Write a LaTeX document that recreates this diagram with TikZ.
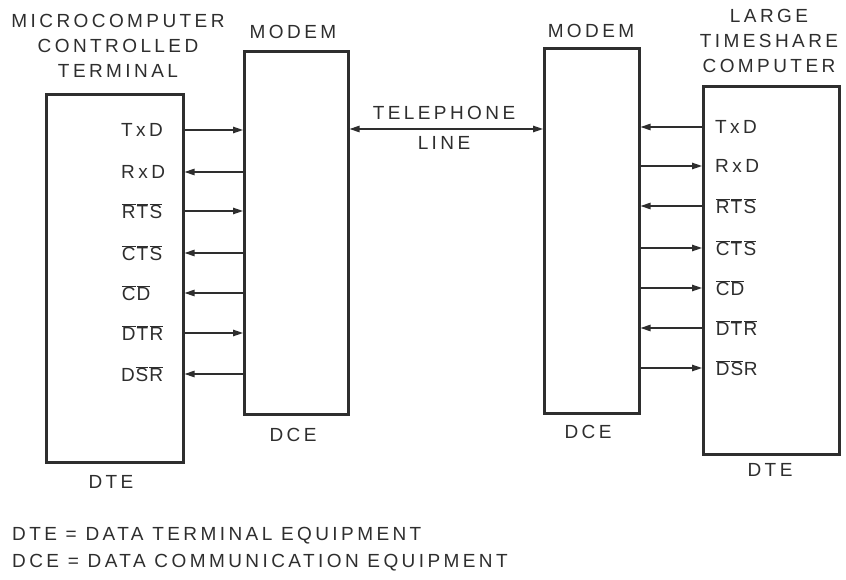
\documentclass[tikz,border=0pt]{standalone}
\usepackage{fontspec}
\setmainfont[LetterSpace=18]{Liberation Sans}
\usetikzlibrary{arrows.meta}
\definecolor{ink}{HTML}{2E2E2E}
\newcommand{\ob}[1]{\kern0.6pt$\overline{\mbox{#1}}$\kern0.6pt}
\begin{document}
\begin{tikzpicture}[x=1pt,y=-1pt,
  box/.style={draw=ink,line width=2.6pt,fill=none},
  txt/.style={text=ink,font=\fontsize{19}{25}\selectfont,inner sep=0pt,align=center},
  sig/.style={txt,anchor=west},
  conn/.style={draw=ink,line width=1.3pt,-{Triangle[length=10pt,width=6.5pt]}},
  conn2/.style={draw=ink,line width=1.3pt,{Triangle[length=10pt,width=6.5pt]}-{Triangle[length=10pt,width=6.5pt]}}]
\useasboundingbox (0,0) rectangle (846,580);
% boxes
\node[box,minimum width=137pt,minimum height=368pt,anchor=north west] (dteL) at (45,93) {};
\node[box,minimum width=104pt,minimum height=363pt,anchor=north west] (modL) at (243,50) {};
\node[box,minimum width=95pt,minimum height=365pt,anchor=north west] (modR) at (543,47) {};
\node[box,minimum width=136pt,minimum height=368pt,anchor=north west] (dteR) at (702,85) {};
% titles
\node[txt] (t1) at (118,46) {MICROCOMPUTER\\CONTROLLED\\TERMINAL};
\node[txt] (t2) at (293,32) {MODEM};
\node[txt] (t3) at (591,31) {MODEM};
\node[txt] (t4) at (769,41) {LARGE\\TIMESHARE\\COMPUTER};
\node[txt] (b1) at (111,482) {DTE};
\node[txt] (b2) at (293,435) {DCE};
\node[txt] (b3) at (588,432) {DCE};
\node[txt] (b4) at (770,470) {DTE};
% telephone line
\node[txt] (tel) at (444,113) {TELEPHONE};
\node[txt] (line) at (444,143) {LINE};
\coordinate (tl) at (0,129);
\draw[conn2] (modL.east |- tl) -- (modR.west |- tl);
% left signals
\node[sig] (l1) at (121,130) {TxD};
\node[sig] (l2) at (121,172) {RxD};
\node[sig] (l3) at (121,211) {\ob{R}\ob{T}\ob{S}};
\node[sig] (l4) at (121,253) {\ob{C}\ob{T}\ob{S}};
\node[sig] (l5) at (121,293) {\ob{C}\ob{D}};
\node[sig] (l6) at (121,333) {\ob{D}\ob{T}\ob{R}};
\node[sig] (l7) at (121,374) {D\ob{S}\ob{R}};
\draw[conn] (dteL.east |- l1) -- (modL.west |- l1);
\draw[conn] (modL.west |- l2) -- (dteL.east |- l2);
\draw[conn] (dteL.east |- l3) -- (modL.west |- l3);
\draw[conn] (modL.west |- l4) -- (dteL.east |- l4);
\draw[conn] (modL.west |- l5) -- (dteL.east |- l5);
\draw[conn] (dteL.east |- l6) -- (modL.west |- l6);
\draw[conn] (modL.west |- l7) -- (dteL.east |- l7);
% right signals
\node[sig] (r1) at (715,127) {TxD};
\node[sig] (r2) at (715,166) {RxD};
\node[sig] (r3) at (715,206) {\ob{R}\ob{T}\ob{S}};
\node[sig] (r4) at (715,248) {\ob{C}\ob{T}\ob{S}};
\node[sig] (r5) at (715,288) {\ob{C}\ob{D}};
\node[sig] (r6) at (715,328) {\ob{D}\ob{T}\ob{R}};
\node[sig] (r7) at (715,368) {\ob{D}\ob{S}R};
\draw[conn] (dteR.west |- r1) -- (modR.east |- r1);
\draw[conn] (modR.east |- r2) -- (dteR.west |- r2);
\draw[conn] (dteR.west |- r3) -- (modR.east |- r3);
\draw[conn] (modR.east |- r4) -- (dteR.west |- r4);
\draw[conn] (modR.east |- r5) -- (dteR.west |- r5);
\draw[conn] (dteR.west |- r6) -- (modR.east |- r6);
\draw[conn] (modR.east |- r7) -- (dteR.west |- r7);
% legend
\node[txt,anchor=west] (lg1) at (12,536) {DTE = DATA TERMINAL EQUIPMENT};
\node[txt,anchor=west] (lg2) at (12,563) {DCE = DATA COMMUNICATION EQUIPMENT};
\end{tikzpicture}
\end{document}
